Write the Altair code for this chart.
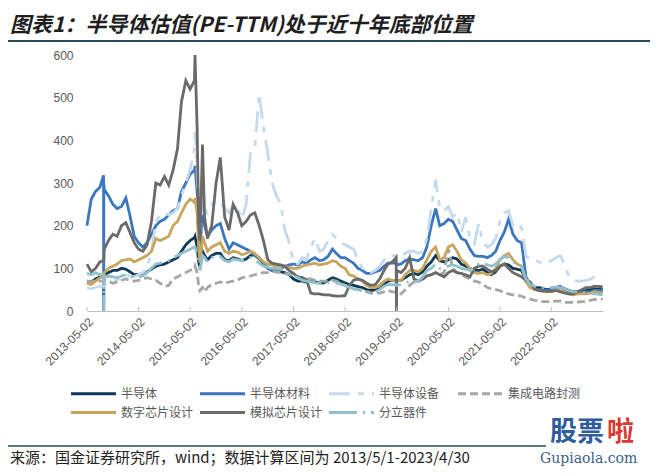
import altair as alt
import pandas as pd

# ---------------- data ----------------
dates = (
    ["2013-05-02", "2013-06-01", "2013-07-01", "2013-08-01", "2013-08-27", "2013-08-28",
     "2013-08-29", "2013-09-01", "2013-10-01", "2013-11-01", "2013-12-01"]
    + [f"2014-{m:02d}-01" for m in range(1, 13)]
    + ["2015-01-01", "2015-02-01", "2015-03-01", "2015-04-01", "2015-05-01", "2015-06-01",
       "2015-06-05", "2015-06-20", "2015-07-01", "2015-07-10", "2015-07-28", "2015-08-12",
       "2015-09-01", "2015-10-01", "2015-11-01", "2015-12-01"]
    + [f"2016-{m:02d}-01" for m in range(1, 13)]
    + [f"2017-{m:02d}-01" for m in range(1, 13)]
    + [f"2018-{m:02d}-01" for m in range(1, 13)]
    + ["2019-01-01", "2019-02-01", "2019-03-01", "2019-04-01", "2019-04-28", "2019-04-30",
       "2019-05-02"] + [f"2019-{m:02d}-01" for m in range(6, 13)]
    + [f"2020-{m:02d}-01" for m in range(1, 13)]
    + [f"2021-{m:02d}-01" for m in range(1, 13)]
    + [f"2022-{m:02d}-01" for m in range(1, 13)]
    + ["2023-01-01", "2023-02-01", "2023-03-01", "2023-04-28"]
)

semi = (
    [70, 68, 75, 80, 80, 0, 80, 85, 90, 95, 95]
    + [100, 98, 92, 85, 85, 88, 92, 98, 105, 108, 110, 115]
    + [120, 125, 140, 155, 165, 172, 175, 150, 115, 100, 140, 130, 120, 130, 135, 135]
    + [120, 118, 125, 122, 118, 122, 130, 132, 125, 110, 100, 95]
    + [92, 92, 90, 85, 75, 70, 70, 68, 70, 68, 66, 66]
    + [72, 78, 75, 70, 66, 62, 60, 57, 55, 50, 48, 50]
    + [52, 62, 70, 72, 72, 70, 70, 72, 78, 85, 88, 85, 92, 105]
    + [115, 130, 118, 115, 120, 125, 122, 110, 105, 100, 95, 95]
    + [98, 90, 85, 92, 105, 110, 108, 100, 98, 95, 72, 60]
    + [55, 55, 52, 50, 52, 55, 56, 52, 48, 45, 46, 47]
    + [48, 50, 52, 50]
)
materials = (
    [200, 262, 280, 290, 318, 0, 300, 285, 270, 250, 240]
    + [245, 265, 225, 175, 160, 150, 160, 180, 200, 210, 215, 225]
    + [235, 240, 280, 300, 320, 330, 340, 280, 190, 150, 230, 200, 175, 190, 200, 205]
    + [170, 145, 160, 155, 150, 145, 140, 130, 122, 115, 100, 95]
    + [95, 98, 105, 108, 110, 108, 115, 112, 120, 125, 118, 120]
    + [128, 145, 135, 125, 125, 118, 112, 100, 95, 88, 88, 92]
    + [95, 105, 112, 112, 112, 110, 108, 110, 118, 122, 120, 118, 125, 150]
    + [200, 240, 200, 205, 215, 210, 190, 170, 165, 145, 130, 128]
    + [128, 125, 130, 140, 165, 185, 215, 180, 165, 160, 80, 60]
    + [52, 50, 50, 48, 50, 55, 58, 48, 42, 40, 42, 43]
    + [45, 45, 48, 48]
)
equipment = (
    [55, 52, 55, 58, 58, 58, 58, 60, 65, 70, 72]
    + [80, 85, 82, 80, 85, 90, 100, 140, 210, 225, 230, 225]
    + [230, 240, 270, 300, 330, 380, 420, 330, 220, 180, 250, 240, 230, 250, 260, 255]
    + [240, 230, 250, 240, 215, 250, 370, 380, 510, 430, 370, 300]
    + [270, 250, 190, 160, 115, 110, 125, 120, 150, 170, 140, 145]
    + [165, 180, 170, 160, 155, 150, 145, 120, 100, 92, 90, 95]
    + [105, 120, 130, 130, 130, 128, 125, 128, 135, 140, 140, 135, 140, 170]
    + [240, 308, 240, 235, 245, 220, 230, 185, 220, 170, 158, 205]
    + [160, 150, 155, 170, 210, 230, 235, 200, 205, 195, 130, 120]
    + [120, 115, 110, 115, 118, 125, 130, 110, 80, 72, 70, 70]
    + [72, 75, 80, 78]
)
packaging = (
    [70, 68, 72, 70, 70, 70, 70, 72, 70, 65, 68]
    + [72, 75, 72, 70, 72, 75, 78, 75, 72, 65, 58, 60]
    + [75, 80, 85, 90, 95, 100, 105, 90, 60, 48, 55, 45, 55, 62, 65, 68]
    + [65, 68, 70, 72, 78, 80, 82, 85, 88, 90, 90, 92]
    + [92, 90, 88, 86, 82, 80, 78, 76, 75, 72, 70, 70]
    + [70, 72, 70, 65, 60, 55, 52, 50, 48, 45, 42, 42]
    + [42, 45, 48, 45, 45, 44, 42, 40, 50, 60, 68, 70, 75, 80]
    + [85, 90, 85, 90, 145, 100, 90, 85, 80, 75, 70, 68]
    + [62, 55, 52, 50, 48, 42, 40, 38, 36, 35, 30, 28]
    + [25, 24, 22, 22, 22, 23, 23, 20, 20, 20, 21, 22]
    + [23, 25, 27, 28]
)
digital = (
    [65, 62, 70, 78, 80, 80, 80, 90, 100, 105, 110]
    + [118, 120, 122, 115, 120, 125, 130, 140, 170, 165, 170, 175]
    + [200, 210, 230, 250, 262, 255, 265, 230, 150, 113, 175, 160, 140, 150, 155, 160]
    + [140, 135, 140, 138, 132, 135, 140, 135, 125, 115, 110, 108]
    + [105, 105, 105, 102, 100, 100, 105, 108, 110, 112, 108, 110]
    + [112, 118, 115, 105, 100, 85, 82, 75, 70, 60, 55, 55]
    + [60, 70, 75, 72, 72, 70, 70, 72, 85, 95, 95, 92, 100, 120]
    + [140, 150, 120, 125, 150, 155, 140, 120, 112, 100, 90, 88]
    + [90, 85, 88, 100, 120, 130, 135, 120, 110, 105, 68, 55]
    + [50, 48, 46, 45, 46, 48, 48, 45, 40, 38, 40, 40]
    + [40, 42, 45, 42]
)
analog = (
    [110, 92, 100, 115, 118, 118, 118, 145, 165, 180, 175]
    + [200, 207, 185, 160, 145, 140, 155, 210, 300, 295, 315, 295]
    + [330, 380, 490, 540, 520, 540, 600, 430, 200, 165, 390, 220, 170, 200, 300, 360]
    + [220, 190, 250, 230, 200, 210, 225, 230, 200, 165, 120, 112]
    + [110, 108, 105, 95, 88, 80, 78, 74, 42, 40, 40, 38]
    + [38, 36, 35, 35, 36, 60, 72, 75, 72, 65, 60, 62]
    + [75, 95, 110, 115, 125, 0, 95, 90, 100, 125, 75, 70, 75, 82]
    + [85, 90, 85, 80, 90, 95, 90, 88, 85, 80, 100, 105]
    + [105, 98, 92, 95, 105, 110, 100, 90, 85, 80, 72, 68]
    + [52, 48, 47, 46, 46, 48, 45, 42, 40, 40, 45, 50]
    + [55, 55, 58, 57]
)
discrete = (
    [88, 85, 90, 85, 85, 0, 82, 80, 82, 80, 78]
    + [82, 85, 82, 78, 80, 82, 90, 100, 110, 112, 115, 118]
    + [125, 130, 135, 140, 145, 150, 150, 135, 110, 95, 130, 125, 115, 125, 130, 128]
    + [118, 115, 122, 120, 118, 120, 125, 120, 112, 105, 102, 100]
    + [100, 98, 95, 88, 82, 78, 72, 70, 68, 66, 65, 66]
    + [66, 68, 66, 63, 60, 55, 52, 50, 48, 45, 44, 45]
    + [50, 58, 62, 62, 62, 60, 60, 62, 65, 70, 68, 70, 80, 95]
    + [100, 110, 100, 102, 105, 108, 105, 100, 98, 95, 100, 110]
    + [112, 108, 105, 110, 120, 128, 125, 115, 110, 105, 75, 62]
    + [58, 56, 55, 54, 55, 56, 55, 52, 48, 45, 45, 44]
    + [42, 42, 40, 38]
)

names = ["半导体", "半导体材料", "半导体设备", "集成电路封测", "数字芯片设计", "模拟芯片设计", "分立器件"]
series_values = [semi, materials, equipment, packaging, digital, analog, discrete]
colors = ["#0e3a5a", "#3b77be", "#c6daee", "#a6a6a6", "#c8a55c", "#6a6a6a", "#92c0cc"]
dashes = [[1, 0], [1, 0], [21, 8, 6, 8], [8, 4], [1, 0], [1, 0], [28, 6, 2, 6]]

tick_dates = ["2013-05-02", "2014-05-02", "2015-05-02", "2016-05-02", "2017-05-02",
              "2018-05-02", "2019-05-02", "2020-05-02", "2021-05-02", "2022-05-02"]
y_ticks = [0, 100, 200, 300, 400, 500, 600]

title_text = "图表1：半导体估值(PE-TTM)处于近十年底部位置"
source_text = "来源：国金证券研究所，wind；数据计算区间为 2013/5/1-2023/4/30"

rows = []
for n, vals in zip(names, series_values):
    assert len(vals) == len(dates), (n, len(vals), len(dates))
    for d, v in zip(dates, vals):
        rows.append({"date": d, "value": v, "series": n})
df = pd.DataFrame(rows)

# ---------------- chart ----------------
W, H = 516, 256


def dt(s):
    y, m, d = (int(p) for p in s.split("-"))
    return alt.DateTime(year=y, month=m, date=d, utc=True)


x_scale = alt.Scale(type="utc", domain=[dt("2013-05-02"), dt("2023-04-30")])
x_axis = alt.Axis(
    values=[dt(s) for s in tick_dates],
    labelExpr="utcFormat(datum.value, '%Y-%m-%d')",
    labelAngle=-45, labelAlign="right", labelBaseline="top", labelPadding=5,
    ticks=False, domainColor="#bfbfbf", domainWidth=1, title=None,
    labelOverlap=False, labelFlush=False, grid=False,
)
y_axis = alt.Axis(values=y_ticks, title=None, domain=False, ticks=False,
                  labelPadding=14, grid=False)

legend = alt.Legend(
    orient="none", legendX=0, legendY=332, direction="horizontal", columns=4,
    title=None, symbolType="M-4.5,0H4.5", symbolSize=100, symbolStrokeWidth=3,
    labelFont="Noto Sans CJK SC", labelFontSize=12, labelColor="#595959",
    labelOffset=21, columnPadding=0, rowPadding=6, gridAlign="all", padding=0,
    labelLimit=300,
)

color_enc = alt.Color("series:N", scale=alt.Scale(domain=names, range=colors), legend=legend)
dash_enc = alt.StrokeDash("series:N", scale=alt.Scale(domain=names, range=dashes), legend=legend)

base = alt.Chart(df).mark_line(strokeWidth=2.8).encode(
    x=alt.X("date:T", scale=x_scale, axis=x_axis),
    y=alt.Y("value:Q", scale=alt.Scale(domain=[0, 600], nice=False), axis=y_axis),
    color=color_enc,
    strokeDash=dash_enc,
)
line_layers = [base.transform_filter(alt.datum.series == n) for n in names]

ticks_layer = alt.Chart(pd.DataFrame({"date": tick_dates})).mark_rule(
    color="#bfbfbf", strokeWidth=1
).encode(x=alt.X("date:T", scale=x_scale, axis=x_axis), y=alt.value(H - 4), y2=alt.value(H))

one = pd.DataFrame({"a": [0]})

title_layer = alt.Chart(pd.DataFrame({"t": [title_text]})).mark_text(
    align="left", baseline="middle", font="Noto Sans CJK SC", fontSize=21,
    fontWeight="bold", fontStyle="italic", color="#1e1e1e"
).encode(text="t:N", x=alt.value(-77), y=alt.value(-29))

title_rule = alt.Chart(one).mark_rule(color="#27475a", strokeWidth=2).encode(
    x=alt.value(-82), x2=alt.value(563), y=alt.value(-14))

footer_rule = alt.Chart(one).mark_rule(color="#27475a", strokeWidth=1.5).encode(
    x=alt.value(-82), x2=alt.value(459), y=alt.value(391))

footer_layer = alt.Chart(pd.DataFrame({"t": [source_text]})).mark_text(
    align="left", baseline="middle", font="Noto Sans CJK SC", fontSize=15, color="#222222"
).encode(text="t:N", x=alt.value(-77), y=alt.value(403))

logo1 = alt.Chart(pd.DataFrame({"t": ["股票"]})).mark_text(
    align="left", baseline="middle", font="Noto Sans CJK SC", fontSize=27,
    fontWeight="bold", color="#2f5d9b"
).encode(text="t:N", x=alt.value(463), y=alt.value(378))
logo2 = alt.Chart(pd.DataFrame({"t": ["啦"]})).mark_text(
    align="left", baseline="middle", font="Noto Sans CJK SC", fontSize=27,
    fontWeight="bold", color="#d63a32"
).encode(text="t:N", x=alt.value(520), y=alt.value(378))
logo3 = alt.Chart(pd.DataFrame({"t": ["Gupiaola.com"]})).mark_text(
    align="left", baseline="middle", font="DejaVu Serif", fontSize=14, color="#3d5f86"
).encode(text="t:N", x=alt.value(453), y=alt.value(404))

chart = alt.layer(
    *line_layers, ticks_layer, title_layer, title_rule, footer_rule, footer_layer,
    logo1, logo2, logo3
).properties(
    width=W, height=H,
    padding={"left": 79, "top": 47, "right": 49, "bottom": 157},
    autosize=alt.AutoSizeParams(type="none"),
).configure_view(stroke=None).configure_axis(
    labelFont="Liberation Sans", labelColor="#595959", labelFontSize=12, grid=False
)

chart.save("out.html", embed_options={"renderer": "svg", "actions": False})
